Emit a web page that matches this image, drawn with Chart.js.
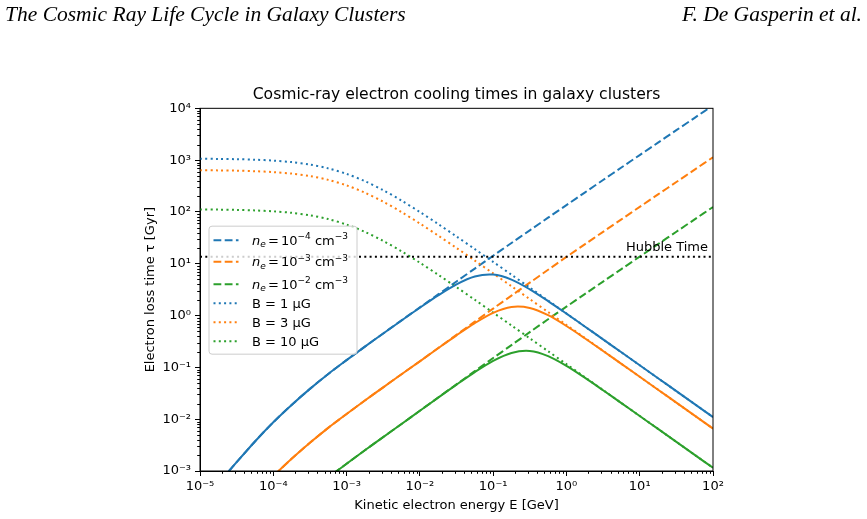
<!DOCTYPE html>
<html><head><meta charset="utf-8">
<script src="https://cdn.jsdelivr.net/npm/chart.js@4.4.0/dist/chart.umd.min.js"></script>
<style>
html,body{margin:0;padding:0;background:#fff;}
#wrap{position:relative;width:867px;height:519px;overflow:hidden;background:#fff;}
#c{position:absolute;left:0;top:0;}
.hdr{position:absolute;top:4px;font-family:"Liberation Serif","Times New Roman",serif;font-style:italic;font-size:21.5px;line-height:1;color:#000;white-space:nowrap;}
</style></head><body>
<div id="wrap">
<canvas id="c" width="867" height="519"></canvas>
<div class="hdr" style="left:5px">The Cosmic Ray Life Cycle in Galaxy Clusters</div>
<div class="hdr" style="right:5px">F. De Gasperin et al.</div>
</div>
<script>
// ---- data ----
const energy = [1e-5,1.778e-5,3.162e-5,5.623e-5,1e-4,1.778e-4,3.162e-4,5.623e-4,1e-3,1.778e-3,3.162e-3,5.623e-3,0.01,0.01778,0.03162,0.05623,0.1,0.1778,0.3162,0.5623,1,1.778,3.162,5.623,10,17.78,31.62,56.23,100];
const coulombNe4 = [2.188e-4,5.754e-4,1.479e-3,3.715e-3,8.710e-3,0.01884,0.03846,0.07464,0.1380,0.2512,0.4519,0.8091,1.439,2.559,4.550,8.072,14.29,25.12,44.16,77.45,135.5,236.6,413.0,719.5,1253,2178,3784,6561,11376];
const coulombNe3 = [1.995e-5,5.248e-5,1.349e-4,3.388e-4,7.943e-4,1.718e-3,3.508e-3,6.808e-3,0.01259,0.02291,0.04121,0.07379,0.1312,0.2360,0.4246,0.7621,1.365,2.427,4.315,7.656,13.55,23.66,41.30,71.94,125.3,217.8,378.4,656.1,1138];
const coulombNe2 = [2.188e-6,5.754e-6,1.479e-5,3.715e-5,8.710e-5,1.884e-4,3.846e-4,7.464e-4,1.380e-3,2.512e-3,4.519e-3,8.091e-3,0.01455,0.02618,0.04710,0.08453,0.1514,0.2692,0.4786,0.8492,1.486,2.594,4.529,7.889,13.74,23.88,41.50,71.94,124.7];
const syncB1 = [1065,1056,1043,1019,979,916,821,693,543,392,263,165.4,99.7,58.4,33.66,19.19,10.87,6.145,3.464,1.952,1.098,0.6177,0.3473,0.1954,0.1099,0.06178,0.03474,0.01954,0.01099];
const syncB3 = [639,634,626,611,587,550,493,416,326,235,158,99.2,59.8,35.0,20.2,11.51,6.52,3.687,2.078,1.171,0.659,0.371,0.2084,0.1172,0.0659,0.0371,0.02084,0.01172,0.00659];
const syncB10 = [111.8,110.9,109.5,107.0,102.8,96.2,86.2,72.8,57.0,41.2,27.6,17.37,10.47,6.13,3.534,2.015,1.141,0.645,0.364,0.205,0.1153,0.0649,0.0365,0.0205,0.01154,0.00649,0.00365,0.00205,0.001154];
const totalNe4B1 = [2.188e-4,5.754e-4,1.479e-3,3.715e-3,8.710e-3,0.01884,0.03846,0.07463,0.1380,0.2510,0.4511,0.8052,1.4185,2.4516,4.008,5.682,6.174,4.937,3.212,1.904,1.0892,0.6161,0.3471,0.1954,0.1099,0.06178,0.03474,0.01954,0.01099];
const totalNe3B3 = [1.995e-5,5.248e-5,1.349e-4,3.388e-4,7.943e-4,1.718e-3,3.508e-3,6.808e-3,0.01259,0.02291,0.0412,0.07374,0.1309,0.2344,0.4159,0.7148,1.1287,1.4636,1.4025,1.0157,0.6284,0.3653,0.2073,0.1170,0.06587,0.03709,0.02084,0.01172,0.00659];
const totalNe2B10 = [2.188e-6,5.754e-6,1.479e-5,3.715e-5,8.710e-5,1.884e-4,3.846e-4,7.464e-4,1.380e-3,2.512e-3,4.518e-3,8.087e-3,0.01453,0.02607,0.04648,0.08113,0.1337,0.1899,0.2068,0.1651,0.1070,0.06331,0.03620,0.02045,0.01153,0.00649,0.00365,0.00205,0.001154];
const hubbleTime = 13.7;
const hubbleLabel = 'Hubble Time';
const xTicks = [1e-5,1e-4,1e-3,1e-2,1e-1,1e0,1e1,1e2];
const xTickLabels = ['10⁻⁵','10⁻⁴','10⁻³','10⁻²','10⁻¹','10⁰','10¹','10²'];
const yTicks = [1e-3,1e-2,1e-1,1e0,1e1,1e2,1e3,1e4];
const yTickLabels = ['10⁻³','10⁻²','10⁻¹','10⁰','10¹','10²','10³','10⁴'];
const densityExponents = ['−4','−3','−2'];
const fieldLabels = ['B = 1 μG','B = 3 μG','B = 10 μG'];
const titleText = 'Cosmic-ray electron cooling times in galaxy clusters';
const xTitle = 'Kinetic electron energy E [GeV]';
const yTitle = 'Electron loss time τ [Gyr]';

// ---- styles ----
const C = ['#1f77b4','#ff7f0e','#2ca02c'];
const DASH = [7.8,3.4], DOT = [2,3.3];
const FONT = 'DejaVu Sans';
Chart.defaults.font.family = FONT;
Chart.defaults.color = '#000';

const pts = arr => energy.map((e,i)=>({x:e,y:arr[i]}));
function ds(label, arr, color, dash, order){
  return {label, data: pts(arr), borderColor: color, borderWidth: 2, borderDash: dash||[],
    borderCapStyle:'butt', pointRadius: 0, tension: 0.3, fill: false, order};
}
const datasets = [
  ds('ne4', coulombNe4, C[0], DASH, 3),
  ds('ne3', coulombNe3, C[1], DASH, 3),
  ds('ne2', coulombNe2, C[2], DASH, 3),
  ds('B1', syncB1, C[0], DOT, 2),
  ds('B3', syncB3, C[1], DOT, 2),
  ds('B10', syncB10, C[2], DOT, 2),
  ds('t1', totalNe4B1, C[0], null, 1),
  ds('t2', totalNe3B3, C[1], null, 1),
  ds('t3', totalNe2B10, C[2], null, 1),
  {label:'hubble', data:[{x:xTicks[0],y:hubbleTime},{x:xTicks[xTicks.length-1],y:hubbleTime}],
   borderColor:'#000', borderWidth:2, borderDash:DOT, borderCapStyle:'butt', pointRadius:0, order:0}
];

const deco = {
  id:'deco',
  afterDraw(chart){
    const {ctx, chartArea:a, scales:{x,y}} = chart;
    ctx.save();
    // frame
    ctx.strokeStyle='#000'; ctx.lineWidth=1; ctx.setLineDash([]);
    ctx.strokeRect(a.left, a.top, a.right-a.left, a.bottom-a.top);
    // minor ticks
    ctx.beginPath();
    for(let d=-5; d<2; d++) for(let k=2;k<10;k++){
      const px = Math.round(x.getPixelForValue(k*Math.pow(10,d)))+0.5;
      ctx.moveTo(px,a.bottom); ctx.lineTo(px,a.bottom+2.8);
    }
    for(let d=-3; d<4; d++) for(let k=2;k<10;k++){
      const py = Math.round(y.getPixelForValue(k*Math.pow(10,d)))+0.5;
      ctx.moveTo(a.left,py); ctx.lineTo(a.left-2.8,py);
    }
    ctx.stroke();
    // Hubble label
    ctx.fillStyle='#000'; ctx.font='13px "'+FONT+'"'; ctx.textAlign='right'; ctx.textBaseline='alphabetic';
    ctx.fillText(hubbleLabel, a.right-5, y.getPixelForValue(hubbleTime)-6);
    // legend
    const lw=148, lh=128;
    const lx = a.left+8.5, ly = (a.top+a.bottom)/2 - lh/2;
    ctx.beginPath();
    if(ctx.roundRect) ctx.roundRect(lx+0.5, ly+0.5, lw, lh, 3); else ctx.rect(lx+0.5,ly+0.5,lw,lh);
    ctx.fillStyle='rgba(255,255,255,0.8)'; ctx.fill();
    ctx.strokeStyle='#cccccc'; ctx.lineWidth=1; ctx.stroke();
    const rowY = [14.5, 36, 58.5, 77.7, 96.7, 115.7];
    for(let i=0;i<6;i++){
      const yy = ly + rowY[i];
      ctx.beginPath(); ctx.setLineDash(i<3?DASH:DOT); ctx.lineWidth=2; ctx.lineCap='butt';
      ctx.strokeStyle = C[i%3];
      ctx.moveTo(lx+5, yy); ctx.lineTo(lx+30, yy); ctx.stroke();
      ctx.setLineDash([]);
      ctx.fillStyle='#000'; ctx.textAlign='left'; ctx.textBaseline='alphabetic';
      let tx = lx+43.4; const yb = yy+4.5;
      if(i<3){
        ctx.font='italic 13px "'+FONT+'"'; ctx.fillText('n',tx,yb); tx+=ctx.measureText('n').width;
        ctx.font='italic 9px "'+FONT+'"'; ctx.fillText('e',tx,yb+2.5); tx+=ctx.measureText('e').width+2.2;
        ctx.font='13px "'+FONT+'"'; ctx.fillText('=',tx,yb); tx+=ctx.measureText('=').width+2.2;
        ctx.fillText('10',tx,yb); tx+=ctx.measureText('10').width;
        ctx.font='9px "'+FONT+'"'; ctx.fillText(densityExponents[i],tx,yb-5.5); tx+=ctx.measureText(densityExponents[i]).width;
        ctx.font='13px "'+FONT+'"'; ctx.fillText(' cm',tx,yb); tx+=ctx.measureText(' cm').width;
        ctx.font='9px "'+FONT+'"'; ctx.fillText('−3',tx,yb-5.5);
      } else {
        ctx.font='13px "'+FONT+'"'; ctx.fillText(fieldLabels[i-3],tx,yb);
      }
    }
    ctx.restore();
  }
};

new Chart(document.getElementById('c'), {
  type:'line',
  data:{datasets},
  options:{
    responsive:false, animation:false, events:[],
    layout:{padding:{left:130,right:154,top:80,bottom:0}},
    plugins:{
      legend:{display:false}, tooltip:{enabled:false},
      title:{display:true, text:titleText, fullSize:false, color:'#000',
        font:{size:15.6, weight:'normal', family:FONT}, padding:{top:5.3,bottom:4.3}}
    },
    scales:{
      x:{type:'logarithmic', position:'bottom', min:1e-5, max:1e2,
        afterFit:s=>{s.height=48;},
        afterBuildTicks:s=>{s.ticks = xTicks.map(v=>({value:v}));},
        grid:{display:true, drawOnChartArea:false, drawTicks:true, tickLength:5, color:'#000'},
        border:{display:true,color:'#000',width:1},
        ticks:{autoSkip:false, maxRotation:0, padding:3, color:'#000', font:{size:13},
          callback:(v,i)=>xTickLabels[i]},
        title:{display:true, text:xTitle, color:'#000', font:{size:13}, padding:{top:0,bottom:5.5}}
      },
      y:{type:'logarithmic', position:'left', min:1e-3, max:1e4,
        afterFit:s=>{s.width=70;},
        afterBuildTicks:s=>{s.ticks = yTicks.map(v=>({value:v}));},
        grid:{display:true, drawOnChartArea:false, drawTicks:true, tickLength:5, color:'#000'},
        border:{display:true,color:'#000',width:1},
        ticks:{autoSkip:false, padding:4, color:'#000', font:{size:13},
          callback:(v,i)=>yTickLabels[i]},
        title:{display:true, text:yTitle, color:'#000', font:{size:13}, padding:{top:12.7,bottom:0}}
      }
    }
  },
  plugins:[deco]
});
</script>
</body></html>
